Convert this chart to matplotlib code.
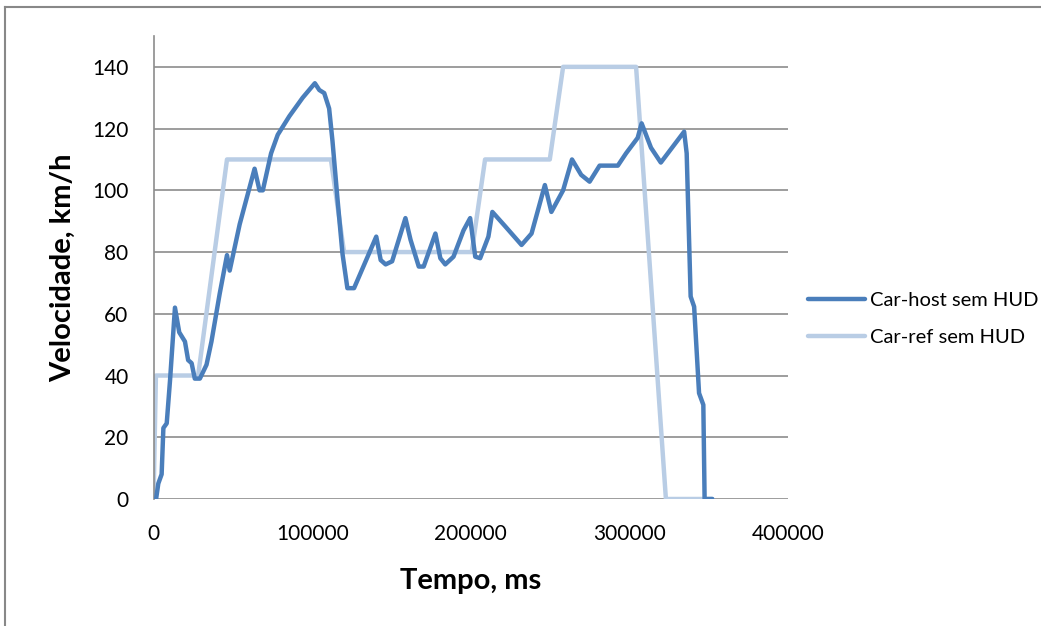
#!/usr/bin/env python3
# -*- coding: utf-8 -*-

import numpy as np
import matplotlib
matplotlib.use("Agg")
import matplotlib.pyplot as plt
from matplotlib.lines import Line2D

# Velocidade do carro de referência (km/h) em função do tempo (ms)
ref_t = [0, 1500, 28100, 46300, 111800, 120100, 200600, 209000,
         249800, 258200, 304200, 323000, 352300]
ref_v = [0, 40, 40, 110, 110, 80, 80, 110,
         110, 140, 140, 0, 0]

# Velocidade do carro hospedeiro (km/h)
host_t = [1600, 3000, 5100, 6200, 8300, 10400, 13500, 16200, 19800, 21800,
          24000, 26000, 29200, 33400, 36500, 41700, 46300, 48000, 54300, 63700,
          66800, 68900, 74100, 78300, 85600, 94000, 101700, 104500, 107600, 110700,
          112800, 116000, 119100, 122200, 126400, 135800, 140400, 143200, 146300, 150400,
          158800, 162000, 167200, 170300, 177700, 180800, 183900, 189100, 195400, 199600,
          202800, 205900, 211100, 213600, 221600, 232000, 238300, 246700, 250800, 258200,
          263800, 269600, 274900, 281200, 292700, 297900, 305200, 307700, 313600, 319800,
          334500, 336100, 338600, 340800, 343900, 346600, 347400, 352300]
host_v = [0, 5, 8, 23, 24.5, 38.5, 62, 54, 51, 45,
          44, 39, 39, 43.5, 51, 66.5, 79, 74, 89, 107,
          100, 100, 112, 118, 124, 130, 134.7, 132.5, 131.5, 126.5,
          116, 97, 79.5, 68.3, 68.3, 79.5, 85, 77.4, 76, 77,
          91, 84, 75.3, 75.3, 86, 78, 76, 78.5, 87, 91,
          78.5, 78, 85, 93, 88.4, 82.3, 86, 101.7, 93, 100,
          110, 105, 102.8, 108, 108, 112, 117, 121.7, 113.8, 109,
          119, 112, 65.6, 62.3, 34.3, 30.5, 0, 0]

y_ticks = [0, 20, 40, 60, 80, 100, 120, 140]
x_ticks = [0, 100000, 200000, 300000, 400000]

DARK = '#4a7ebb'
LIGHT = '#b9cde5'
GRID = '#8c8c8c'

plt.rcParams['font.family'] = ['Lato', 'DejaVu Sans']

fig = plt.figure(figsize=(10.41, 6.26), dpi=100)
ax = fig.add_axes([0.1475, 0.2029, 0.6095, 0.7396])

ax.plot(host_t, host_v, color=DARK, lw=3.2, solid_joinstyle='round',
        solid_capstyle='round', label='Car-host sem HUD', zorder=3)
ax.plot(ref_t, ref_v, color=LIGHT, lw=3.2, solid_joinstyle='round',
        solid_capstyle='round', label='Car-ref sem HUD', zorder=2)

ax.set_xlim(0, 400000)
ax.set_ylim(0, 150)
ax.set_xticks(x_ticks)
ax.set_xticklabels([str(v) for v in x_ticks])
ax.set_yticks(y_ticks)
ax.set_yticklabels([str(v) for v in y_ticks])
ax.tick_params(length=0, labelsize=15, pad=18)

ax.grid(axis='y', color=GRID, lw=1.2)
ax.set_axisbelow(True)
for s in ['top', 'right', 'bottom']:
    ax.spines[s].set_visible(False)
ax.spines['left'].set_color(GRID)
ax.spines['left'].set_linewidth(1.2)

ax.set_xlabel('Tempo, ms', fontsize=21, fontweight='bold')
ax.set_ylabel('Velocidade, km/h', fontsize=21, fontweight='bold')
ax.xaxis.set_label_coords(0.499, -0.150)
ax.yaxis.set_label_coords(-0.122, 0.5)

ax.legend(loc='center left', bbox_to_anchor=(0.759, 0.49),
          bbox_transform=fig.transFigure, frameon=False, fontsize=14.5,
          handlelength=2.8, labelspacing=1.0, handletextpad=0.25)

# moldura da área do gráfico (só topo e esquerda ficam visíveis)
fig.add_artist(Line2D([5 / 1041, 1], [1 - 7 / 626, 1 - 7 / 626],
                      transform=fig.transFigure, color='#888888', lw=1.5))
fig.add_artist(Line2D([5 / 1041, 5 / 1041], [0, 1 - 7 / 626],
                      transform=fig.transFigure, color='#888888', lw=1.5))

fig.savefig('out.png', dpi=100)
